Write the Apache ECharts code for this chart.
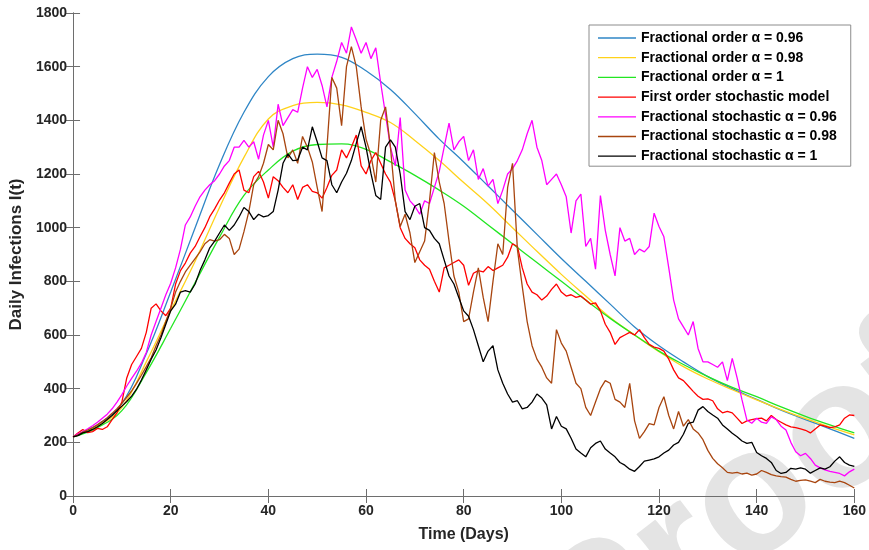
<!DOCTYPE html>
<html>
<head>
<meta charset="utf-8">
<script src="https://cdn.jsdelivr.net/npm/echarts@6/dist/echarts.min.js"></script>
<style>
  html, body { margin: 0; padding: 0; background: #fff; }
  #vis { width: 869px; height: 550px; }
</style>
</head>
<body>
<div id="vis"></div>
<script>
// deterministic curves, sampled every 5 days
const smoothDays = [0, 5, 10, 15, 20, 25, 30, 35, 40, 45, 50, 55, 60, 65, 70, 75, 80,
  85, 90, 95, 100, 105, 110, 115, 120, 125, 130, 135, 140, 145, 150, 155, 160]
const frac096 = [220, 265, 345, 530, 760, 1000, 1235, 1430, 1563, 1630, 1647, 1635, 1585, 1515, 1425, 1330, 1245,
  1155, 1065, 975, 885, 800, 715, 630, 560, 500, 445, 400, 360, 320, 285, 250, 215]
const frac098 = [220, 260, 330, 500, 690, 875, 1075, 1262, 1405, 1455, 1467, 1458, 1430, 1392, 1325, 1250, 1168,
  1088, 1000, 912, 826, 745, 665, 600, 538, 482, 436, 396, 358, 322, 288, 257, 228]
const frac1 = [220, 255, 318, 460, 625, 795, 965, 1120, 1215, 1285, 1310, 1312, 1292, 1245, 1195, 1140, 1080,
  1010, 940, 870, 800, 730, 662, 600, 540, 490, 445, 405, 370, 332, 297, 265, 235]

// stochastic paths, one value per day (day 0..160)
const firstOrder = [220, 235, 248, 236, 240, 252, 248, 258, 285, 310, 350, 440, 490, 520, 550, 610, 700, 716, 690, 672,
  700, 790, 840, 868, 905, 930, 966, 1000, 1041, 1070, 1103, 1130, 1166, 1200, 1215, 1140, 1130, 1190, 1210, 1170,
  1110, 1190, 1175, 1150, 1130, 1160, 1105, 1150, 1160, 1135, 1130, 1110, 1150, 1195, 1215, 1290, 1260, 1300, 1345, 1230,
  1200, 1250, 1280, 1240, 1200, 1170, 1100, 1000, 960, 940, 925, 880, 860, 845, 800, 760, 850, 860, 870, 880,
  860, 785, 830, 840, 835, 855, 840, 850, 860, 890, 940, 930, 850, 790, 760, 750, 730, 745, 770, 790,
  760, 745, 750, 740, 745, 730, 715, 720, 690, 640, 610, 565, 590, 600, 610, 600, 620, 590, 565, 555,
  550, 540, 510, 470, 440, 430, 410, 390, 372, 360, 362, 355, 325, 310, 315, 310, 290, 270, 280, 285,
  288, 290, 280, 300, 285, 275, 265, 258, 255, 250, 245, 235, 250, 265, 260, 255, 258, 265, 290, 302, 300]
const stoch096 = [220, 232, 240, 250, 262, 275, 290, 305, 325, 350, 378, 410, 438, 465, 495, 535, 600, 650, 700, 750,
  793, 850, 920, 1010, 1040, 1080, 1115, 1140, 1160, 1175, 1200, 1230, 1250, 1300, 1300, 1325, 1300, 1320, 1255, 1345,
  1400, 1300, 1460, 1380, 1410, 1440, 1430, 1520, 1600, 1560, 1590, 1530, 1450, 1560, 1620, 1690, 1650, 1748, 1700, 1650,
  1690, 1630, 1670, 1540, 1420, 1300, 1230, 1410, 1140, 1100, 1080, 1050, 1100, 1090, 1150, 1210, 1300, 1390, 1290, 1320,
  1340, 1250, 1290, 1180, 1220, 1155, 1180, 1090, 1140, 1200, 1220, 1250, 1290, 1350, 1400, 1300, 1250, 1160, 1180, 1200,
  1160, 1115, 980, 1100, 1125, 930, 960, 845, 1120, 990, 900, 820, 1000, 950, 960, 900, 920, 910, 930, 1054,
  1004, 966, 850, 730, 660, 630, 600, 650, 550, 500, 500, 490, 480, 500, 430, 513, 440, 358, 283, 271,
  290, 275, 271, 295, 285, 260, 246, 200, 165, 150, 159, 140, 115, 105, 97, 92, 88, 84, 75, 90, 100]
const stoch098 = [220, 228, 238, 246, 255, 265, 278, 292, 308, 325, 345, 368, 392, 420, 450, 482, 515, 560, 600, 650,
  700, 760, 800, 835, 860, 885, 910, 940, 955, 950, 955, 975, 960, 900, 920, 985, 1060, 1160, 1190, 1240,
  1310, 1290, 1400, 1350, 1260, 1290, 1240, 1340, 1300, 1245, 1150, 1060, 1300, 1560, 1520, 1380, 1600, 1675, 1600, 1450,
  1330, 1270, 1170, 1400, 1450, 1300, 1100, 1004, 1050, 980, 870, 910, 950, 1100, 1280, 1170, 1090, 950, 820, 760,
  650, 660, 760, 850, 740, 650, 800, 940, 900, 1150, 1240, 920, 780, 650, 560, 510, 480, 440, 420, 620,
  570, 540, 480, 420, 400, 330, 300, 350, 400, 430, 420, 360, 350, 330, 420, 280, 215, 240, 270, 265,
  330, 370, 300, 250, 315, 260, 285, 250, 235, 210, 170, 140, 120, 105, 88, 85, 88, 82, 85, 78,
  82, 95, 88, 80, 75, 72, 70, 62, 55, 58, 60, 55, 50, 62, 55, 52, 50, 55, 50, 40, 30]
const stoch1 = [220, 225, 235, 240, 248, 258, 270, 285, 300, 318, 335, 352, 372, 398, 432, 470, 510, 544, 590, 640,
  690, 715, 760, 765, 760, 790, 840, 880, 925, 950, 980, 1010, 990, 1010, 1040, 1075, 1060, 1030, 1050, 1040,
  1045, 1060, 1140, 1240, 1275, 1250, 1252, 1300, 1290, 1376, 1320, 1260, 1250, 1160, 1130, 1170, 1203, 1250, 1314, 1376,
  1300, 1203, 1120, 1105, 1300, 1327, 1300, 1200, 1060, 1030, 1080, 1090, 1000, 990, 960, 940, 880, 820, 790, 740,
  690, 670, 620, 560, 500, 540, 560, 470, 420, 380, 350, 355, 325, 330, 350, 380, 365, 340, 250, 296,
  260, 250, 215, 175, 160, 146, 180, 196, 205, 175, 160, 146, 125, 115, 100, 92, 110, 130, 134, 138,
  146, 160, 171, 190, 200, 230, 271, 275, 320, 333, 315, 302, 290, 265, 250, 234, 221, 205, 196, 200,
  162, 150, 140, 125, 95, 84, 88, 103, 100, 105, 100, 85, 95, 105, 100, 109, 130, 146, 125, 115, 110]

const xTicks = [0, 20, 40, 60, 80, 100, 120, 140, 160]
const yTicks = [0, 200, 400, 600, 800, 1000, 1200, 1400, 1600, 1800]

const names = [
  'Fractional order α = 0.96',
  'Fractional order α = 0.98',
  'Fractional order α = 1',
  'First order stochastic model',
  'Fractional stochastic α = 0.96',
  'Fractional stochastic α = 0.98',
  'Fractional stochastic α = 1'
]
const colors = ['#2f86c6', '#ffd21a', '#22e622', '#ff0000', '#ff00ff', '#a8450f', '#000000']

const pairSmooth = (vals) => vals.map((v, i) => [smoothDays[i], v])
const pairDaily = (vals) => vals.map((v, i) => [i, v])

const seriesData = [
  pairSmooth(frac096), pairSmooth(frac098), pairSmooth(frac1),
  pairDaily(firstOrder), pairDaily(stoch096), pairDaily(stoch098), pairDaily(stoch1)
]

const chart = echarts.init(document.getElementById('vis'), null, { renderer: 'canvas' })

const axisColor = '#6e6e6e'
const labelFont = { color: '#262626', fontWeight: 'bold', fontSize: 14, fontFamily: 'Liberation Sans, Arial, sans-serif' }

const boxAxis = {
  axisLine: { show: true, lineStyle: { color: axisColor, width: 1 } },
  axisTick: { show: true, inside: true, length: 7, lineStyle: { color: axisColor } },
  splitLine: { show: false }
}

const options = {
  animation: false,
  backgroundColor: '#fff',
  grid: { left: 72, right: 13, top: 13, bottom: 54, containLabel: false },
  xAxis: [
    {
      type: 'value', min: 0, max: 160, interval: 20,
      name: 'Time (Days)', nameLocation: 'middle', nameGap: 31,
      nameTextStyle: { ...labelFont, fontSize: 16 },
      axisLabel: { ...labelFont, margin: 8, customValues: xTicks, formatter: (v) => String(v) },
      ...boxAxis
    },
    {
      type: 'value', min: 0, max: 160, interval: 20, position: 'top',
      axisLabel: { show: false },
      ...boxAxis
    }
  ],
  yAxis: [
    {
      type: 'value', min: 0, max: 1800, interval: 200,
      name: 'Daily Infections I(t)', nameLocation: 'middle', nameGap: 43,
      nameTextStyle: { ...labelFont, fontSize: 17 },
      axisLabel: { ...labelFont, margin: 6, customValues: yTicks, formatter: (v) => String(v) },
      ...boxAxis
    },
    {
      type: 'value', min: 0, max: 1800, interval: 200, position: 'right',
      axisLabel: { show: false },
      ...boxAxis
    }
  ],
  legend: {
    orient: 'vertical',
    left: 589,
    top: 25,
    padding: [6, 14, 3, 9],
    itemWidth: 38,
    itemHeight: 14,
    itemGap: 5.7,
    icon: 'path://M0,0 L38,0 L38,1.3 L0,1.3 Z',
    backgroundColor: '#fff',
    borderColor: '#8c8c8c',
    borderWidth: 1,
    textStyle: { ...labelFont, fontSize: 14, lineHeight: 14, color: '#000' },
    data: names
  },
  // faint watermark behind the plot
  graphic: [
    {
      type: 'group',
      x: 746,
      y: 508,
      rotation: 0.65,
      z: -10,
      silent: true,
      children: [
        {
          type: 'text',
          x: 0,
          y: 0,
          style: {
            text: 'Proof',
            fill: '#e4e4e4',
            font: 'bold 180px Liberation Sans, Arial, sans-serif',
            align: 'center',
            verticalAlign: 'middle'
          }
        }
      ]
    }
  ],
  series: names.map((name, i) => ({
    name,
    type: 'line',
    data: seriesData[i],
    smooth: i < 3 ? 0.4 : false,
    symbol: 'none',
    lineStyle: { color: colors[i], width: 1.3 },
    itemStyle: { color: colors[i] },
    z: 2 + i
  }))
}

chart.setOption(options)
</script>
</body>
</html>
